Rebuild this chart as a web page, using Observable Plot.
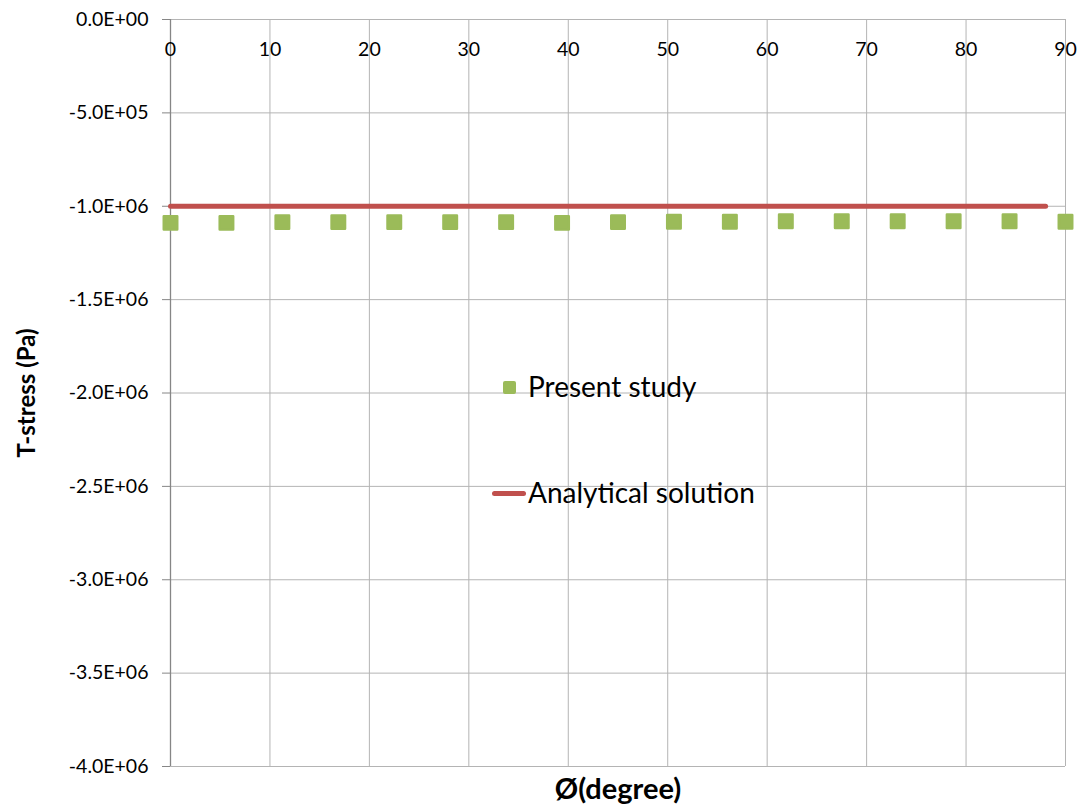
<!DOCTYPE html>
<html>
<head>
<meta charset="utf-8">
<script src="https://cdn.jsdelivr.net/npm/d3@7"></script>
<script src="https://cdn.jsdelivr.net/npm/@observablehq/plot@0.6"></script>
<style>
  html, body { margin: 0; padding: 0; background: #fff; }
  #wrap { position: relative; width: 1087px; height: 808px; font-family: Lato, "Open Sans", sans-serif; }
  .leg { position: absolute; font-size: 28px; color: #000; white-space: nowrap; line-height: 1; }
  .sw-sq { position: absolute; width: 13px; height: 13px; background: #9BBB59; border-radius: 2px; }
  .sw-ln { position: absolute; height: 5px; background: #C0504D; border-radius: 3px; }
</style>
</head>
<body>
<div id="wrap"></div>
<script>
// ---- data ----
const angles = [0, 5.625, 11.25, 16.875, 22.5, 28.125, 33.75, 39.375, 45, 50.625, 56.25, 61.875, 67.5, 73.125, 78.75, 84.375, 90];
const presentStudy = [-1.089e6, -1.089e6, -1.085e6, -1.085e6, -1.085e6, -1.085e6, -1.085e6, -1.089e6, -1.085e6, -1.083e6, -1.083e6, -1.080e6, -1.080e6, -1.080e6, -1.080e6, -1.080e6, -1.083e6];
const analyticalX = [0, 88];
const analyticalY = [-1.0e6, -1.0e6];
const xTicks = [0, 10, 20, 30, 40, 50, 60, 70, 80, 90];
const yTicks = [0, -5e5, -1e6, -1.5e6, -2e6, -2.5e6, -3e6, -3.5e6, -4e6];
const seriesNames = ["Present study", "Analytical solution"];

function sci(v) {
  if (v === 0) return "0.0E+00";
  const e = Math.floor(Math.log10(Math.abs(v)) + 1e-9);
  const m = v / Math.pow(10, e);
  return m.toFixed(1) + "E+" + String(e).padStart(2, "0");
}

const pts = angles.map((a, i) => ({x: a, y: presentStudy[i]}));
const ana = analyticalX.map((a, i) => ({x: a, y: analyticalY[i]}));

const chart = Plot.plot({
  width: 1087,
  height: 808,
  marginLeft: 170,
  marginRight: 22,
  marginTop: 19,
  marginBottom: 42,
  style: {fontFamily: "Lato, 'Open Sans', sans-serif", background: "#fff"},
  x: {type: "linear", domain: [0, 90], axis: null},
  y: {type: "linear", domain: [-4e6, 0], axis: null},
  marks: [
    Plot.gridX(xTicks, {stroke: "#b4b4b4", strokeOpacity: 1, strokeWidth: 1}),
    Plot.gridY(yTicks, {stroke: "#b4b4b4", strokeOpacity: 1, strokeWidth: 1}),
    Plot.ruleX([0], {stroke: "#868686", strokeWidth: 1.3}),
    Plot.axisY(yTicks, {anchor: "left", tickSize: 8, tickPadding: 14, stroke: "#868686", tickFormat: sci, fontSize: 19.5, fill: "#000", label: null}),
    Plot.text(xTicks, {x: d => d, frameAnchor: "top", lineAnchor: "middle", dy: 30, text: d => String(d), fontSize: 19.5, fill: "#000"}),
    Plot.line(ana, {x: "x", y: "y", stroke: "#C0504D", strokeWidth: 5, strokeLinecap: "round"}),
    Plot.dot(pts, {x: "x", y: "y", symbol: "square", r: 7.6, fill: "#9BBB59", stroke: "#9BBB59", strokeWidth: 2.5, strokeLinejoin: "round"}),
    Plot.text(["T-stress (Pa)"], {frameAnchor: "left", textAnchor: "middle", lineAnchor: "middle", rotate: -90, dx: -143, fontSize: 24, fontWeight: "bold", fill: "#000"}),
    Plot.text(["Ø(degree)"], {frameAnchor: "bottom", textAnchor: "middle", lineAnchor: "middle", dy: 23, fontSize: 29, fontWeight: "bold", fill: "#000"})
  ]
});

const wrap = document.getElementById("wrap");
wrap.appendChild(chart);

// legend overlay
const sq = document.createElement("div");
sq.className = "sw-sq";
sq.style.left = "503px"; sq.style.top = "381px";
wrap.appendChild(sq);
const t1 = document.createElement("div");
t1.className = "leg"; t1.textContent = seriesNames[0];
t1.style.left = "528px"; t1.style.top = "372px";
wrap.appendChild(t1);

const ln = document.createElement("div");
ln.className = "sw-ln";
ln.style.left = "492px"; ln.style.top = "491px"; ln.style.width = "34px";
wrap.appendChild(ln);
const t2 = document.createElement("div");
t2.className = "leg"; t2.textContent = seriesNames[1];
t2.style.left = "528px"; t2.style.top = "478px";
wrap.appendChild(t2);
</script>
</body>
</html>
